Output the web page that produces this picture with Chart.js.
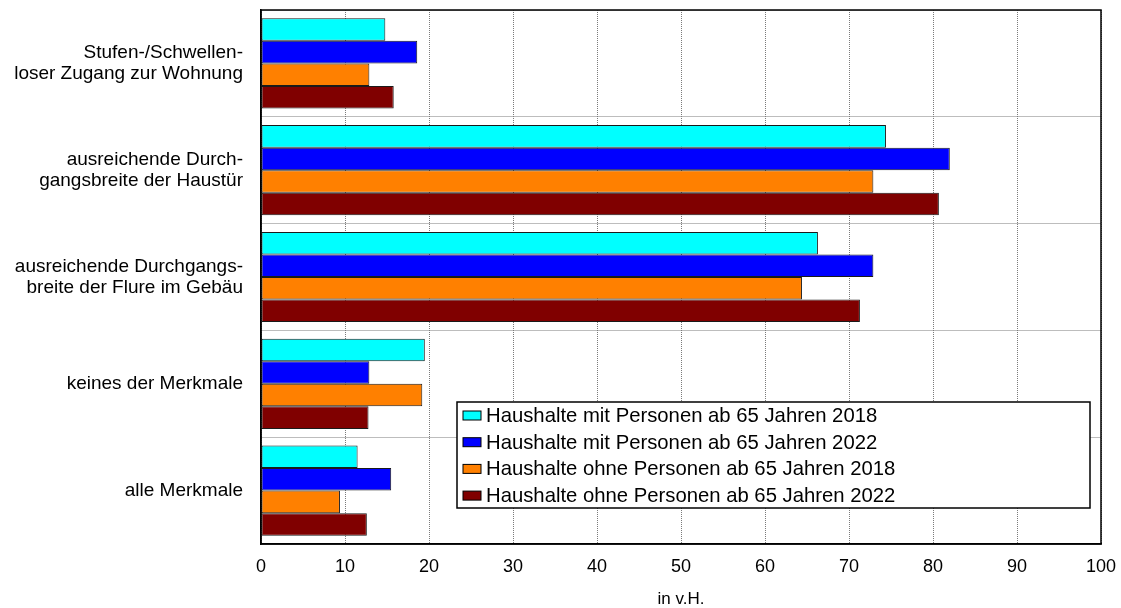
<!DOCTYPE html>
<html>
<head>
<meta charset="utf-8">
<script src="https://cdn.jsdelivr.net/npm/chart.js@4.4.0/dist/chart.umd.min.js"></script>
<style>
  html, body { margin: 0; padding: 0; background: #fff; }
  #wrap { width: 1121px; height: 608px; }
</style>
</head>
<body>
<div id="wrap"><canvas id="chart" width="1121" height="608"></canvas></div>
<script>
const categories = [
    ['Stufen-/Schwellen-', 'loser Zugang zur Wohnung'],
    ['ausreichende Durch-', 'gangsbreite der Haustür'],
    ['ausreichende Durchgangs-', 'breite der Flure im Gebäu'],
    'keines der Merkmale',
    'alle Merkmale'
];
const seriesNames = [
    'Haushalte mit Personen ab 65 Jahren 2018',
    'Haushalte mit Personen ab 65 Jahren 2022',
    'Haushalte ohne Personen ab 65 Jahren 2018',
    'Haushalte ohne Personen ab 65 Jahren 2022'
];
const mit2018 = [14.8, 74.4, 66.3, 19.5, 11.5];
const mit2022 = [18.6, 82.0, 72.9, 12.9, 15.5];
const ohne2018 = [12.9, 72.9, 64.4, 19.2, 9.4];
const ohne2022 = [15.8, 80.7, 71.3, 12.8, 12.6];
const xTicks = [0, 10, 20, 30, 40, 50, 60, 70, 80, 90, 100];
const colors = ['#00ffff', '#0000ff', '#ff8000', '#800000'];

const FONT = '"Liberation Sans", Arial, sans-serif';

// legend drawn inside the plot area, bottom right
const boxLegend = {
    id: 'boxLegend',
    afterDraw(chart) {
        const ctx = chart.ctx;
        const a = chart.chartArea;
        const x0 = a.left + 196, y0 = a.top + 392;
        const w = 633, h = 106;
        ctx.save();
        ctx.fillStyle = '#fff';
        ctx.fillRect(x0, y0, w, h);
        ctx.strokeStyle = '#000';
        ctx.lineWidth = 1.5;
        ctx.strokeRect(x0, y0, w, h);
        ctx.font = '20.3px ' + FONT;
        ctx.textBaseline = 'middle';
        chart.data.datasets.forEach((ds, i) => {
            const cy = y0 + 13.5 + i * 26.7;
            ctx.fillStyle = ds.backgroundColor;
            ctx.fillRect(x0 + 6, cy - 4.5, 18, 9);
            ctx.strokeStyle = '#000';
            ctx.lineWidth = 1;
            ctx.strokeRect(x0 + 6, cy - 4.5, 18, 9);
            ctx.fillStyle = '#000';
            ctx.fillText(ds.label, x0 + 29, cy + 1);
        });
        // plot frame
        ctx.strokeStyle = '#000';
        ctx.lineWidth = 1.5;
        ctx.strokeRect(a.left, a.top, a.right - a.left, a.bottom - a.top);
        ctx.restore();
    }
};

const values = [mit2018, mit2022, ohne2018, ohne2022];

new Chart(document.getElementById('chart'), {
    type: 'bar',
    data: {
        labels: categories,
        datasets: values.map((v, i) => ({
            label: seriesNames[i],
            data: v,
            backgroundColor: colors[i],
            borderColor: '#1a1a1a',
            borderWidth: 1,
            borderSkipped: false,
            categoryPercentage: 0.845,
            barPercentage: 1.0
        }))
    },
    options: {
        indexAxis: 'y',
        responsive: false,
        animation: false,
        layout: { padding: { top: 10, right: 20, left: 0, bottom: 0 } },
        plugins: {
            legend: { display: false },
            tooltip: { enabled: false }
        },
        scales: {
            x: {
                min: 0,
                max: 100,
                afterFit: s => {
                    s.height = 64;
                    s.paddingLeft = 0;
                    s.paddingRight = 0;
                },
                afterBuildTicks: s => { s.ticks = xTicks.map(v => ({ value: v })); },
                grid: {
                    color: '#7a7a7a',
                    lineWidth: 1,
                    drawTicks: false
                },
                border: { color: '#000', width: 1.5, dash: [1, 1] },
                ticks: { color: '#000', padding: 12, font: { family: FONT, size: 18 } },
                title: {
                    display: true,
                    text: 'in v.H.',
                    color: '#000',
                    padding: { top: 0, bottom: 0 },
                    font: { family: FONT, size: 17, lineHeight: 1 }
                }
            },
            y: {
                afterFit: s => {
                    s.width = 261;
                    s.paddingTop = 0;
                    s.paddingBottom = 0;
                },
                grid: {
                    offset: true,
                    color: '#7a7a7a',
                    lineWidth: 1,
                    drawTicks: false
                },
                border: { color: '#000', width: 1.5, dash: [1, 1] },
                ticks: {
                    color: '#000',
                    padding: 18,
                    font: { family: FONT, size: 19, lineHeight: 1.1 }
                }
            }
        }
    },
    plugins: [boxLegend]
});
</script>
</body>
</html>
